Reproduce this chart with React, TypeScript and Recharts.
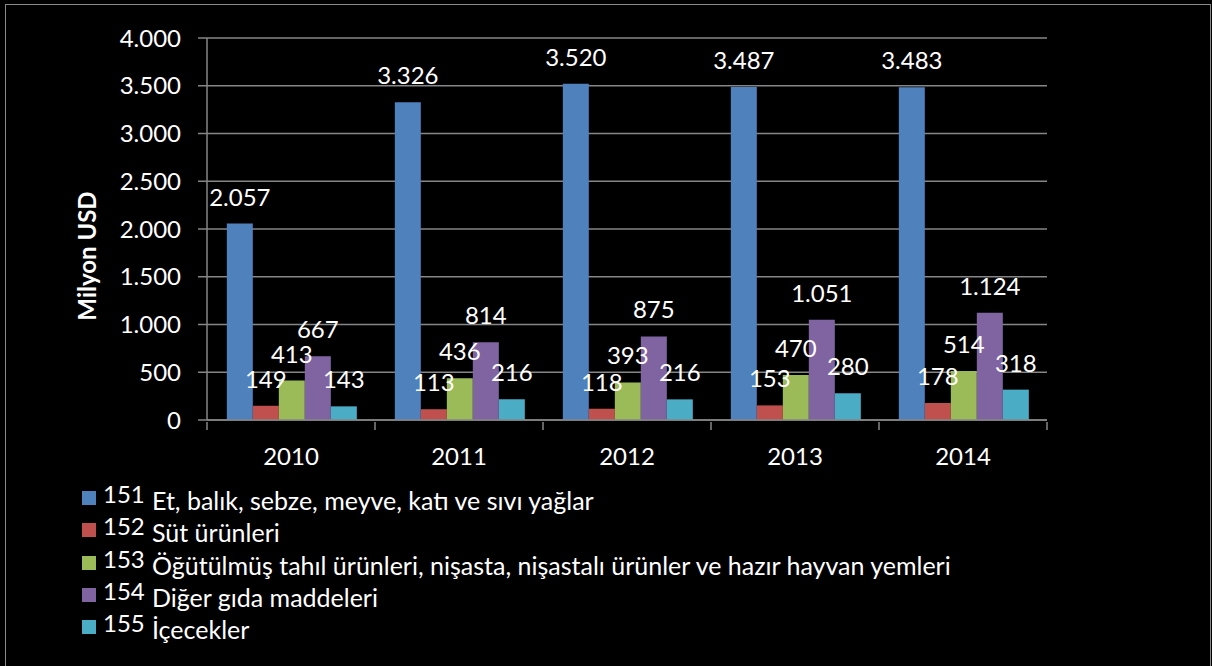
import React from "react";
import {
  Bar,
  BarChart,
  CartesianGrid,
  LabelList,
  Legend,
  XAxis,
  YAxis,
} from "recharts";

const years = ["2010", "2011", "2012", "2013", "2014"];
const codes = ["151", "152", "153", "154", "155"];
const names = [
  "Et, balık, sebze, meyve, katı ve sıvı yağlar",
  "Süt ürünleri",
  "Öğütülmüş tahıl ürünleri, nişasta, nişastalı ürünler ve hazır hayvan yemleri",
  "Diğer gıda maddeleri",
  "İçecekler",
];
const colors = ["#4F81BD", "#C0504D", "#9BBB59", "#8064A2", "#4BACC6"];

const v151 = [2057, 3326, 3520, 3487, 3483];
const v152 = [149, 113, 118, 153, 178];
const v153 = [413, 436, 393, 470, 514];
const v154 = [667, 814, 875, 1051, 1124];
const v155 = [143, 216, 216, 280, 318];

const yTicks = [0, 500, 1000, 1500, 2000, 2500, 3000, 3500, 4000];

const W = 1212;
const H = 666;
const FONT = "Lato, 'Open Sans', sans-serif";
const GRID = "#868686";
const MARGIN = { top: 38, right: 165, left: 0, bottom: 26 };
const Y_W = 207;
const LEGEND_H = 160;
const band = (W - MARGIN.left - MARGIN.right - Y_W) / years.length;

const seriesValues = [v151, v152, v153, v154, v155];
const data = years.map((y, i) => {
  const row: Record<string, string | number> = { year: y };
  codes.forEach((c, k) => {
    row[c] = seriesValues[k][i];
  });
  return row;
});

const fmt = (v: number) => v.toLocaleString("de-DE");

function YearTick(props: any) {
  const { x, y, payload, index } = props;
  const half = band / 2;
  return (
    <g>
      <line x1={x - half} y1={y} x2={x - half} y2={y + 8} stroke={GRID} strokeWidth={1.5} />
      {index === years.length - 1 && (
        <line x1={x + half} y1={y} x2={x + half} y2={y + 8} stroke={GRID} strokeWidth={1.5} />
      )}
      <text x={x} y={y + 43} textAnchor="middle" fill="#fff" fontSize={24} fontFamily={FONT}>
        {payload.value}
      </text>
    </g>
  );
}

function LegendBox() {
  return (
    <div style={{ height: LEGEND_H, fontFamily: FONT, color: "#fff" }}>
      {codes.map((c, i) => (
        <div key={c} style={{ position: "relative", height: 32.3 }}>
          <span
            style={{
              position: "absolute",
              left: 0,
              top: 3,
              width: 14,
              height: 14,
              background: colors[i],
            }}
          />
          <span style={{ position: "absolute", left: 21, top: -10, fontSize: 24, lineHeight: "32px" }}>{c}</span>
          <span
            style={{
              position: "absolute",
              left: 70,
              top: -4,
              fontSize: 25,
              lineHeight: "32px",
              whiteSpace: "nowrap",
            }}
          >
            {names[i]}
          </span>
        </div>
      ))}
    </div>
  );
}

export default function App() {
  return (
    <div
      style={{
        position: "fixed",
        left: 0,
        top: 0,
        width: W,
        height: H,
        background: "#000",
        overflow: "hidden",
      }}
    >
      <div
        style={{
          position: "absolute",
          left: 5,
          top: 4,
          width: 1204,
          height: 680,
          border: "1.5px solid #8a8a8a",
        }}
      />
      <BarChart
        width={W}
        height={H}
        data={data}
        margin={MARGIN}
        barCategoryGap="11.8%"
        barGap={0}
      >
        <CartesianGrid vertical={false} stroke={GRID} strokeWidth={1.5} />
        <XAxis
          dataKey="year"
          height={60}
          axisLine={{ stroke: GRID, strokeWidth: 1.5 }}
          tickLine={false}
          tickSize={0}
          tick={<YearTick />}
          interval={0}
        />
        <YAxis
          width={Y_W}
          domain={[0, 4000]}
          ticks={yTicks}
          tickFormatter={(v) => fmt(Number(v))}
          axisLine={{ stroke: GRID, strokeWidth: 1.5 }}
          tickLine={{ stroke: GRID, strokeWidth: 1.5 }}
          tickSize={9}
          tickMargin={17}
          tick={{ fill: "#fff", fontSize: 24, fontFamily: FONT }}
          label={{
            content: () => (
              <text
                x={0}
                y={0}
                transform="translate(96, 256) rotate(-90)"
                textAnchor="middle"
                fill="#fff"
                fontSize={24}
                fontWeight="bold"
                fontFamily={FONT}
              >
                Milyon USD
              </text>
            ),
          }}
        />
        <Legend
          verticalAlign="bottom"
          layout="horizontal"
          content={<LegendBox />}
          wrapperStyle={{ left: 82, top: 488, bottom: "auto", width: 1000 }}
        />
        {codes.map((c, i) => (
          <Bar key={c} dataKey={c} name={names[i]} fill={colors[i]} isAnimationActive={false}>
            <LabelList
              dataKey={c}
              position="top"
              offset={18}
              fill="#fff"
              fontSize={24}
              fontFamily={FONT}
              formatter={(v: any) => fmt(Number(v))}
            />
          </Bar>
        ))}
      </BarChart>
    </div>
  );
}
